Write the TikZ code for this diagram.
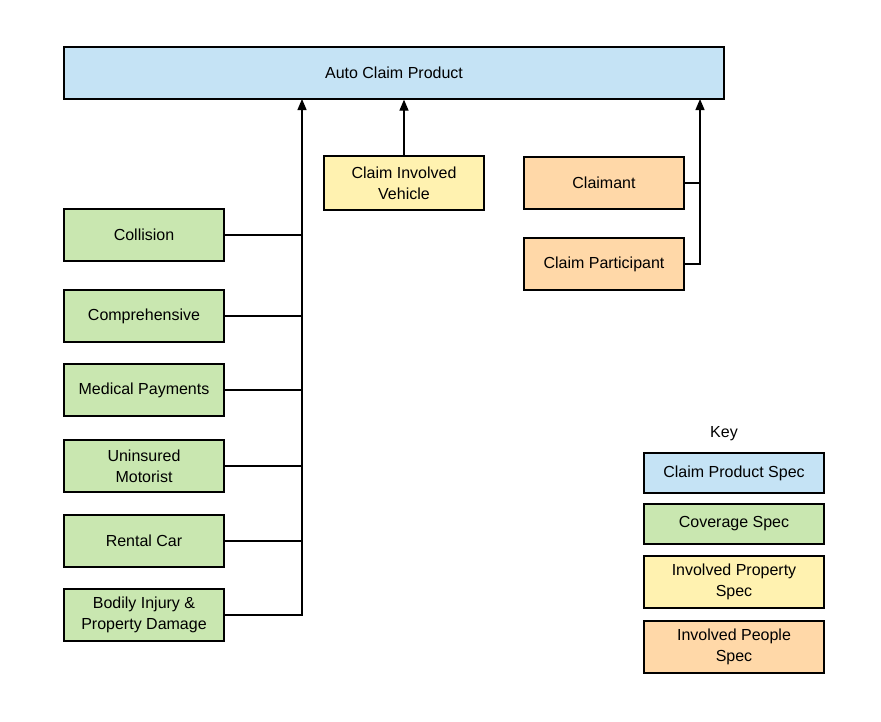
\documentclass[tikz,border=0pt]{standalone}
\usepackage{fontspec}
\setmainfont{Liberation Sans}
\usetikzlibrary{arrows.meta}
\definecolor{prodblue}{HTML}{C5E3F5}
\definecolor{covgreen}{HTML}{C9E7B0}
\definecolor{propyellow}{HTML}{FFF2B0}
\definecolor{peopleorange}{HTML}{FFD8A8}
\tikzset{
  specbox/.style={draw, line width=1.3pt, minimum width=160pt, minimum height=52pt, align=center, inner sep=2pt, font=\fontsize{16}{21}\selectfont},
  keybox/.style={specbox, minimum width=180pt, minimum height=40pt},
  link/.style={line width=1.3pt},
  uplink/.style={link, -{Triangle[length=11pt,width=9pt]}}
}
\begin{document}
\begin{tikzpicture}[x=1pt,y=-1pt]
\useasboundingbox (0,0) rectangle (881,721);
% product
\node[specbox, fill=prodblue, minimum width=660pt] (product) at (394,73) {Auto Claim Product};
% involved items
\node[specbox, fill=propyellow, minimum height=54pt] (vehicle) at (404,183) {Claim Involved\\Vehicle};
\node[specbox, fill=peopleorange] (claimant) at (604,183) {Claimant};
\node[specbox, fill=peopleorange] (participant) at (604,264) {Claim Participant};
% coverages
\node[specbox, fill=covgreen] (collision) at (144,235) {Collision};
\node[specbox, fill=covgreen] (comprehensive) at (144,316) {Comprehensive};
\node[specbox, fill=covgreen] (medical) at (144,390) {Medical Payments};
\node[specbox, fill=covgreen] (uninsured) at (144,466) {Uninsured\\Motorist};
\node[specbox, fill=covgreen] (rental) at (144,541) {Rental Car};
\node[specbox, fill=covgreen] (bodily) at (144,615) {Bodily Injury \&\\Property Damage};
% connectors
\coordinate (leftbus) at (302,99);
\coordinate (rightbus) at (700,99);
\draw[uplink] (bodily.east) -| (leftbus);
\foreach \cov in {collision,comprehensive,medical,uninsured,rental}
  \draw[link] (\cov.east) -- (\cov.east -| leftbus);
\draw[uplink] (vehicle.north) -- (vehicle.north |- product.south);
\draw[uplink] (participant.east) -| (rightbus);
\draw[link] (claimant.east) -- (claimant.east -| rightbus);
% key
\node[font=\fontsize{16}{19}\selectfont] (key) at (724,434) {Key};
\node[keybox, fill=prodblue] (keyproduct) at (734,473) {Claim Product Spec};
\node[keybox, fill=covgreen] (keycoverage) at (734,524) {Coverage Spec};
\node[keybox, fill=propyellow, minimum height=52pt] (keyproperty) at (734,582) {Involved Property\\Spec};
\node[keybox, fill=peopleorange, minimum height=52pt] (keypeople) at (734,647) {Involved People\\Spec};
\end{tikzpicture}
\end{document}
